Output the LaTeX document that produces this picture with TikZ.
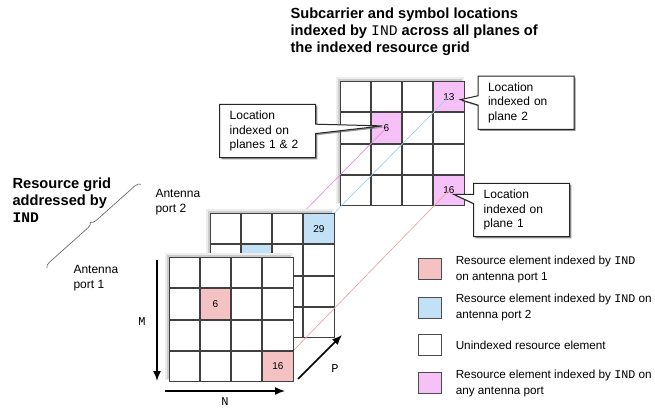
\documentclass[tikz,border=0pt]{standalone}
\usepackage{fontspec}
\setmainfont{Liberation Sans}
\setmonofont{Liberation Mono}
\usetikzlibrary{arrows.meta,matrix,positioning,calc,shapes.callouts,shadows,decorations.pathreplacing}

\definecolor{reone}{HTML}{F4C2C2}
\definecolor{retwo}{HTML}{C3E1F6}
\definecolor{reany}{HTML}{F6C1F6}
\definecolor{lineone}{HTML}{EBA3A3}
\definecolor{linetwo}{HTML}{A3D0F2}
\definecolor{lineany}{HTML}{D993D9}

\pgfdeclarelayer{back}
\pgfdeclarelayer{front}
\pgfsetlayers{back,main,front}

\begin{document}
\begin{tikzpicture}[x=0.75pt,y=0.75pt,>={Latex[length=7.5pt,width=6pt]},thick,
    cell/.style={draw=black!75,fill=white,line width=0.75pt,minimum size=22.7pt,
                 inner sep=0pt,outer sep=0pt,anchor=center,
                 font=\fontsize{7.5}{9}\selectfont},
    resgrid/.style={matrix of nodes,nodes in empty cells,nodes={cell,anchor=center},
                 inner sep=0pt,outer sep=0pt,anchor=north west},
    gridframe/.style={anchor=north west,minimum size=90.8pt,inner sep=0pt,outer sep=0pt,
                 fill=white,
                 general shadow={fill=black!7,shadow scale=1.05,shadow yshift=0.6pt},
                 general shadow={fill=black!20,shadow scale=1.02,shadow yshift=0.4pt}},
    note/.style={rectangle callout,draw=black!85,fill=white,line width=0.75pt,
                 align=left,text width=57pt,minimum height=40pt,inner xsep=7.5pt,
                 callout pointer width=7pt,
                 drop shadow={shadow xshift=1.2pt,shadow yshift=-1.2pt,fill=black!60,opacity=0.7},
                 font=\fontsize{9}{10.9}\selectfont},
    swatch/.style={draw=black!70,line width=0.75pt,minimum width=17.5pt,
                 minimum height=15.75pt,inner sep=0pt},
    keytext/.style={right=10pt of #1,inner sep=0pt,align=left,
                 font=\fontsize{8.8}{12}\selectfont},
    heading/.style={inner sep=0pt,align=left,font=\fontsize{11}{12.75}\selectfont\bfseries},
    plain/.style={inner sep=0pt,align=left,font=\fontsize{9}{11}\selectfont},
    axis/.style={->,line width=1.1pt},
    axislabel/.style={inner sep=0pt,font=\fontsize{9}{11}\selectfont\ttfamily},
    link/.style={line width=0.5pt}]
  \useasboundingbox (0,0) rectangle (655,407);

  % headings
  \node[heading,anchor=west] (title) at (290,375) {Subcarrier and symbol locations\\
    indexed by {\mdseries\ttfamily IND} across all planes of\\the indexed resource grid};
  \node[heading,anchor=west] (gridlabel) at (12,207) {Resource grid\\addressed by\\\texttt{IND}};
  \node[plain,anchor=west] (ant2) at (155,205) {Antenna\\port 2};
  \node[plain,anchor=west] (ant1) at (73,129) {Antenna\\port 1};
  \coordinate (bracelo) at (47,139);
  \coordinate (bracehi) at (141,223);
  \draw[decorate,decoration={brace,amplitude=4pt},draw=black!60,line width=0.5pt]
    (bracelo) -- (bracehi);

  % grids
  \begin{pgfonlayer}{back}
  \node[gridframe] (allportsbox) at (339.5,326) {};
  \matrix (allports) [resgrid] at (339.5,326) {
    & & & |[fill=reany]| 13 \\
    & |[fill=reany]| 6 & & \\
    & & & \\
    & & & |[fill=reany]| 16 \\
  };
  \end{pgfonlayer}
  \node[gridframe] (port2box) at (209.5,194) {};
  \matrix (port2) [resgrid] at (209.5,194) {
    & & & |[fill=retwo]| 29 \\
    & |[fill=retwo]| 22 & & \\
    & & & \\
    & & & \\
  };
  \begin{pgfonlayer}{front}
  \node[gridframe] (port1box) at (168.5,150) {};
  \matrix (port1) [resgrid] at (168.5,150) {
    & & & \\
    & |[fill=reone]| 6 & & \\
    & & & \\
    & & & |[fill=reone]| 16 \\
  };
  \end{pgfonlayer}

  % links between planes
  \begin{pgfonlayer}{back}
  \draw[link,linetwo] (allports-1-4.center) -- (port2-1-4.center);
  \draw[link,lineany] (allports-2-2.center) -- (port2-2-2.center);
  \end{pgfonlayer}
  \draw[link,lineone] (allports-4-4.center) -- (port1-4-4.center);

  % axes
  \coordinate (mfrom) at (157,147);
  \coordinate (mto) at (157,26);
  \coordinate (nfrom) at (165,16);
  \coordinate (nto) at (285,16);
  \coordinate (pfrom) at (298,28);
  \coordinate (pto) at (342,72);
  \draw[axis] (mfrom) -- (mto);
  \draw[axis] (nfrom) -- (nto);
  \draw[axis] (pfrom) -- (pto);
  \node[axislabel] (mlabel) at (142,85) {M};
  \node[axislabel] (nlabel) at (225,5) {N};
  \node[axislabel] (plabel) at (335,38) {P};

  % callouts
  \node[note,callout absolute pointer={($(allports-2-2.center)+(-4,2)$)}] (note12)
    at (267.7,276) {Location\\indexed on\\planes 1 \& 2};
  \node[note,callout absolute pointer={($(allports-1-4.center)+(11.5,-3)$)}] (note2)
    at (526,304.3) {Location\\indexed on\\plane 2};
  \node[note,callout absolute pointer={($(allports-4-4.center)+(5,-4)$)}] (note1)
    at (521.7,197) {Location\\indexed on\\plane 1};

  % legend
  \node[swatch,fill=reone] (sw1) at (430,138) {};
  \node[swatch,fill=retwo] (sw2) at (430,99.5) {};
  \node[swatch,fill=white] (sw3) at (430,62) {};
  \node[swatch,fill=reany] (sw4) at (430,24) {};
  \node[keytext=sw1] (key1) {Resource element indexed by \texttt{IND}\\on antenna port 1};
  \node[keytext=sw2] (key2) {Resource element indexed by \texttt{IND} on\\antenna port 2};
  \node[keytext=sw3] (key3) {Unindexed resource element};
  \node[keytext=sw4] (key4) {Resource element indexed by \texttt{IND} on\\any antenna port};
\end{tikzpicture}
\end{document}
